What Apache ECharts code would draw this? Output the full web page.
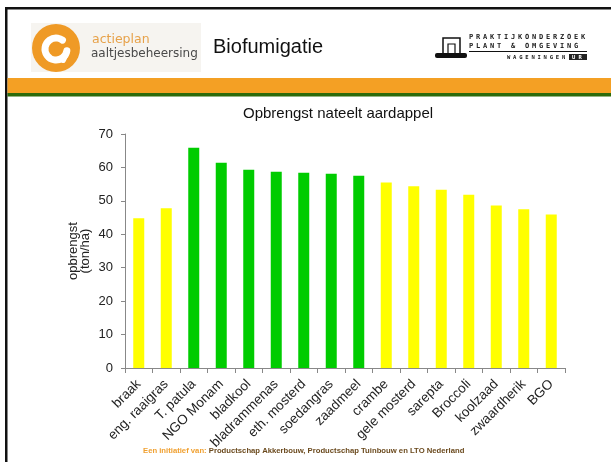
<!DOCTYPE html>
<html>
<head>
<meta charset="utf-8">
<script src="https://cdn.jsdelivr.net/npm/echarts@6/dist/echarts.min.js"></script>
<style>
html,body{margin:0;padding:0;background:#fff;}
#chart{width:611px;height:462px;}
</style>
</head>
<body>
<div id="chart"></div>
<script>
var categories = ['braak','eng. raaigras','T. patula','NGO Monam','bladkool','bladrammenas','eth. mosterd','soedangras','zaadmeel','crambe','gele mosterd','sarepta','Broccoli','koolzaad','zwaardherik','BGO'];
var values = [44.8, 47.8, 65.9, 61.4, 59.3, 58.7, 58.4, 58.1, 57.5, 55.5, 54.4, 53.3, 51.8, 48.6, 47.5, 45.9];
var groups = ['ref','ref','bio','bio','bio','bio','bio','bio','bio','ref','ref','ref','ref','ref','ref','ref'];
var yTicks = [0, 10, 20, 30, 40, 50, 60, 70];

var groupColor = {ref: '#ffff00', bio: '#00cc00'};
var font = 'Liberation Sans, Arial, sans-serif';

var chart = echarts.init(document.getElementById('chart'), null, {renderer: 'canvas'});

var graphics = [
  {type: 'rect', shape: {x: 5, y: 7, width: 606, height: 2.5}, style: {fill: '#111'}},
  {type: 'rect', shape: {x: 5, y: 7, width: 2.5, height: 455}, style: {fill: '#111'}},
  {type: 'rect', shape: {x: 7.5, y: 78, width: 604, height: 15}, style: {fill: '#f4a024'}},
  {type: 'rect', shape: {x: 7.5, y: 93, width: 604, height: 3.5}, style: {fill: '#2d6a0a'}},
  // left logo
  {type: 'rect', shape: {x: 31, y: 23, width: 170, height: 49}, style: {fill: '#f6f4f0'}},
  {type: 'circle', shape: {cx: 56, cy: 48, r: 24}, style: {fill: '#ef9a26'}},
  {type: 'arc', shape: {cx: 56, cy: 49, r: 11, startAngle: Math.PI * 0.05, endAngle: Math.PI * 1.7}, style: {stroke: '#fff', lineWidth: 7, fill: null, lineCap: 'round'}},
  {type: 'line', shape: {x1: 67, y1: 51, x2: 63, y2: 60}, style: {stroke: '#fff', lineWidth: 6, lineCap: 'round'}},
  {type: 'circle', shape: {cx: 58, cy: 50, r: 4}, style: {fill: '#ef9a26'}},
  {type: 'text', left: 92, top: 33, style: {text: 'actieplan', font: '12.5px DejaVu Sans, sans-serif', fill: '#e7a24a'}},
  {type: 'text', left: 91, top: 48, style: {text: 'aaltjesbeheersing', font: '12px DejaVu Sans, sans-serif', fill: '#4a4a4a'}},
  // title
  {type: 'text', left: 213, top: 37, style: {text: 'Biofumigatie', font: '20px ' + font, fill: '#111'}},
  // right logo icon
  {type: 'rect', shape: {x: 443, y: 38, width: 17, height: 16}, style: {fill: '#fff', stroke: '#111', lineWidth: 1.5}},
  {type: 'rect', shape: {x: 448, y: 44, width: 7, height: 10}, style: {fill: '#fff', stroke: '#111', lineWidth: 1.2}},
  {type: 'rect', shape: {x: 435, y: 53, width: 32, height: 5, r: 2}, style: {fill: '#111'}},
  {type: 'line', shape: {x1: 469, y1: 51.5, x2: 587, y2: 51.5}, style: {stroke: '#111', lineWidth: 1}},
  {type: 'rect', shape: {x: 569, y: 54, width: 18, height: 6}, style: {fill: '#222'}},
  // chart title
  {type: 'text', left: 243, top: 106, style: {text: 'Opbrengst nateelt aardappel', font: '15px ' + font, fill: '#111'}},
  // footer
  {type: 'text', left: 143, top: 447, style: {
    text: '{a|Een initiatief van: }{b|Productschap Akkerbouw, Productschap Tuinbouw en LTO Nederland}',
    rich: {a: {font: 'bold 7.7px ' + font, fill: '#f0a030'}, b: {font: 'bold 7.7px ' + font, fill: '#6b4a1e'}}
  }}
];
function spaced(str, x0, step, y, size, color) {
  for (var i = 0; i < str.length; i++) {
    graphics.push({type: 'text', left: x0 + i * step, top: y, style: {text: str[i], font: 'bold ' + size + 'px DejaVu Sans Mono, monospace', fill: color}});
  }
}
spaced('PRAKTIJKONDERZOEK', 469, 7.0, 34, 7, '#222');
spaced('PLANT & OMGEVING', 469, 7.0, 42.5, 7, '#222');
spaced('WAGENINGEN', 507, 6.1, 54.5, 5.5, '#222');
graphics.push({type: 'text', left: 572, top: 54.5, style: {text: 'U R', font: 'bold 5.5px DejaVu Sans Mono, monospace', fill: '#fff'}});

var option = {
  animation: false,
  backgroundColor: '#fff',
  grid: {left: 125, right: 46, top: 134, bottom: 94, containLabel: false},
  xAxis: {
    type: 'category',
    data: categories,
    axisLine: {lineStyle: {color: '#888', width: 1}},
    axisTick: {show: true, length: 5, lineStyle: {color: '#888'}},
    axisLabel: {interval: 0, rotate: 45, margin: 14, fontFamily: font, fontSize: 13.5, color: '#222'}
  },
  yAxis: {
    type: 'value',
    min: yTicks[0], max: yTicks[yTicks.length - 1], interval: yTicks[1] - yTicks[0],
    name: 'opbrengst\n(ton/ha)',
    nameLocation: 'middle',
    nameGap: 34,
    nameMoveOverlap: false,
    nameRotate: 90,
    nameTextStyle: {fontFamily: font, fontSize: 13, color: '#222', lineHeight: 12},
    axisLine: {show: true, lineStyle: {color: '#888', width: 1}},
    axisTick: {show: true, length: 4, lineStyle: {color: '#888'}},
    axisLabel: {margin: 12, fontFamily: font, fontSize: 13, color: '#222'},
    splitLine: {show: false}
  },
  series: [{
    type: 'bar',
    barWidth: 11,
    data: values.map(function (v, i) { return {value: v, itemStyle: {color: groupColor[groups[i]]}}; })
  }],
  graphic: graphics
};
chart.setOption(option);
</script>
</body>
</html>
